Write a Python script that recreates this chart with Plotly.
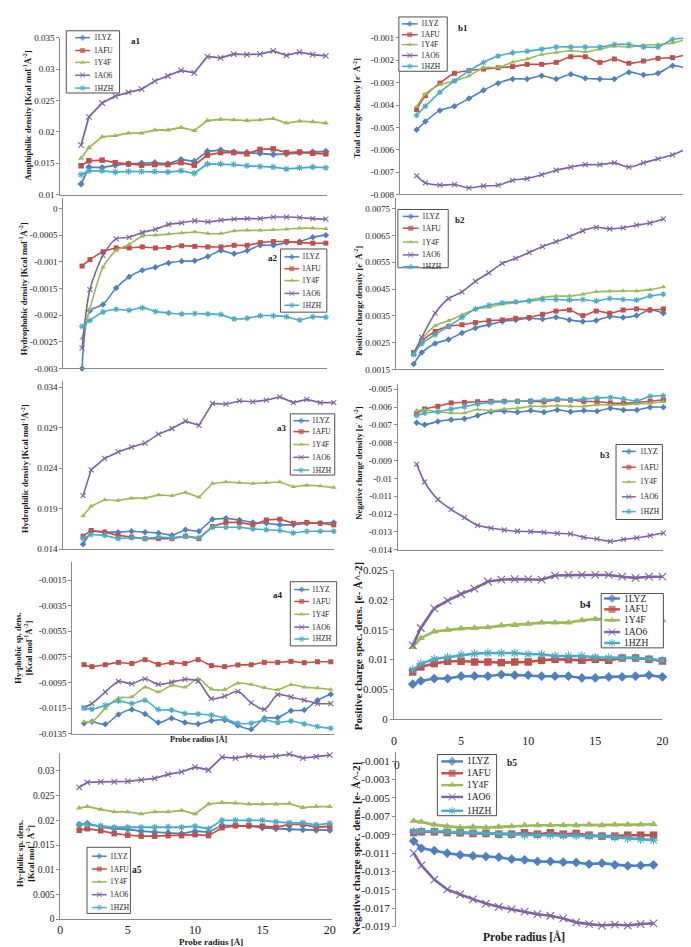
import plotly.graph_objects as go

W, H = 691, 947
FONT = "Liberation Serif"

SERIES = ["1LYZ", "1AFU", "1Y4F", "1AO6", "1HZH"]
COLORS = ["#4F81BD", "#C0504D", "#9BBB59", "#8064A2", "#4BACC6"]
SYMBOLS = ["diamond", "square", "triangle-up", "x-thin-open", "asterisk-open"]

probe_radius = [1.4, 2, 3, 4, 5, 6, 7, 8, 9, 10, 11, 12, 13, 14, 15, 16, 17, 18, 19, 20]

# ---- a1 : Amphiphilic density
a1_1LYZ = [0.0117, 0.0144, 0.0143, 0.0147, 0.0149, 0.0150, 0.0151, 0.0149, 0.0156, 0.0153, 0.0169, 0.0171, 0.0168, 0.0167, 0.0166, 0.0164, 0.0165, 0.0167, 0.0168, 0.0169]
a1_1AFU = [0.0146, 0.0154, 0.0155, 0.0151, 0.0149, 0.0147, 0.0148, 0.0148, 0.0151, 0.0147, 0.0163, 0.0167, 0.0167, 0.0165, 0.0172, 0.0173, 0.0167, 0.0168, 0.0166, 0.0165]
a1_1Y4F = [0.0158, 0.0175, 0.0192, 0.0194, 0.0198, 0.0198, 0.0203, 0.0203, 0.0207, 0.0202, 0.0218, 0.0220, 0.0219, 0.0218, 0.0219, 0.0221, 0.0214, 0.0217, 0.0216, 0.0214]
a1_1AO6 = [0.0179, 0.0224, 0.0246, 0.0257, 0.0263, 0.0268, 0.0281, 0.0289, 0.0298, 0.0294, 0.0320, 0.0318, 0.0324, 0.0323, 0.0324, 0.0329, 0.0322, 0.0327, 0.0323, 0.0321]
a1_1HZH = [0.0132, 0.0138, 0.0138, 0.0136, 0.0137, 0.0137, 0.0137, 0.0136, 0.0138, 0.0134, 0.0149, 0.0149, 0.0148, 0.0146, 0.0145, 0.0144, 0.0141, 0.0143, 0.0144, 0.0143]

# ---- b1 : Total charge density
b1_1LYZ = [-0.00511, -0.00474, -0.00424, -0.00405, -0.00371, -0.00334, -0.00302, -0.00283, -0.00283, -0.00269, -0.00283, -0.00262, -0.00280, -0.00283, -0.00283, -0.00253, -0.00265, -0.00258, -0.00224, -0.00236]
b1_1AFU = [-0.00420, -0.00358, -0.00302, -0.00258, -0.00246, -0.00239, -0.00233, -0.00228, -0.00218, -0.00218, -0.00209, -0.00184, -0.00184, -0.00209, -0.00194, -0.00213, -0.00203, -0.00191, -0.00188, -0.00174]
b1_1Y4F = [-0.00408, -0.00351, -0.00309, -0.00292, -0.00270, -0.00233, -0.00231, -0.00209, -0.00194, -0.00174, -0.00165, -0.00157, -0.00162, -0.00150, -0.00137, -0.00140, -0.00132, -0.00129, -0.00122, -0.00106]
b1_1AO6 = [-0.00717, -0.00748, -0.00759, -0.00756, -0.00771, -0.00762, -0.00759, -0.00737, -0.00729, -0.00712, -0.00692, -0.00678, -0.00667, -0.00667, -0.00659, -0.00678, -0.00659, -0.00641, -0.00623, -0.00594]
b1_1HZH = [-0.00446, -0.00405, -0.00343, -0.00292, -0.00247, -0.00210, -0.00181, -0.00166, -0.00159, -0.00150, -0.00140, -0.00140, -0.00140, -0.00140, -0.00129, -0.00129, -0.00140, -0.00140, -0.00107, -0.00100]

# ---- a2 : Hydrophobic density
a2_1LYZ = [-0.00300, -0.00192, -0.00180, -0.00149, -0.00128, -0.00116, -0.00110, -0.00102, -0.00099, -0.00098, -0.00090, -0.00079, -0.00085, -0.00079, -0.00069, -0.00069, -0.00064, -0.00062, -0.00054, -0.00050]
a2_1AFU = [-0.00108, -0.00096, -0.00081, -0.00074, -0.00074, -0.00072, -0.00074, -0.00073, -0.00070, -0.00071, -0.00072, -0.00072, -0.00069, -0.00069, -0.00064, -0.00062, -0.00062, -0.00064, -0.00065, -0.00065]
a2_1Y4F = [-0.00244, -0.00188, -0.00110, -0.00079, -0.00067, -0.00052, -0.00050, -0.00048, -0.00046, -0.00044, -0.00047, -0.00047, -0.00042, -0.00041, -0.00041, -0.00040, -0.00039, -0.00037, -0.00037, -0.00038]
a2_1AO6 = [-0.00262, -0.00152, -0.00088, -0.00057, -0.00054, -0.00045, -0.00039, -0.00030, -0.00027, -0.00023, -0.00025, -0.00022, -0.00020, -0.00019, -0.00019, -0.00016, -0.00016, -0.00017, -0.00019, -0.00020]
a2_1HZH = [-0.00221, -0.00210, -0.00194, -0.00189, -0.00191, -0.00186, -0.00193, -0.00196, -0.00198, -0.00197, -0.00198, -0.00199, -0.00207, -0.00206, -0.00201, -0.00201, -0.00203, -0.00209, -0.00203, -0.00204]

# ---- b2 : Positive charge density
b2_1LYZ = [0.00170, 0.00213, 0.00247, 0.00262, 0.00286, 0.00305, 0.00317, 0.00329, 0.00335, 0.00341, 0.00338, 0.00345, 0.00335, 0.00329, 0.00333, 0.00348, 0.00344, 0.00351, 0.00372, 0.00360]
b2_1AFU = [0.00213, 0.00256, 0.00292, 0.00311, 0.00317, 0.00325, 0.00332, 0.00335, 0.00341, 0.00344, 0.00356, 0.00368, 0.00372, 0.00351, 0.00368, 0.00360, 0.00372, 0.00376, 0.00372, 0.00376]
b2_1Y4F = [0.00209, 0.00262, 0.00313, 0.00332, 0.00354, 0.00375, 0.00382, 0.00394, 0.00399, 0.00409, 0.00419, 0.00424, 0.00424, 0.00431, 0.00440, 0.00442, 0.00443, 0.00443, 0.00448, 0.00458]
b2_1AO6 = [0.00209, 0.00270, 0.00360, 0.00415, 0.00440, 0.00479, 0.00511, 0.00546, 0.00565, 0.00587, 0.00609, 0.00627, 0.00646, 0.00668, 0.00681, 0.00675, 0.00679, 0.00689, 0.00697, 0.00712]
b2_1HZH = [0.00206, 0.00246, 0.00280, 0.00311, 0.00344, 0.00376, 0.00390, 0.00399, 0.00403, 0.00406, 0.00411, 0.00411, 0.00409, 0.00411, 0.00406, 0.00415, 0.00411, 0.00409, 0.00424, 0.00431]

# ---- a3 : Hydrophilic density
a3_1LYZ = [0.0146, 0.0162, 0.0161, 0.0161, 0.0162, 0.0161, 0.0160, 0.0157, 0.0164, 0.0162, 0.0177, 0.0178, 0.0176, 0.0173, 0.0172, 0.0170, 0.0170, 0.0172, 0.0172, 0.0173]
a3_1AFU = [0.0156, 0.0163, 0.0161, 0.0157, 0.0155, 0.0153, 0.0153, 0.0153, 0.0156, 0.0153, 0.0168, 0.0173, 0.0173, 0.0170, 0.0176, 0.0177, 0.0172, 0.0173, 0.0172, 0.0170]
a3_1Y4F = [0.0181, 0.0193, 0.0201, 0.0200, 0.0203, 0.0203, 0.0207, 0.0206, 0.0210, 0.0204, 0.0221, 0.0223, 0.0222, 0.0221, 0.0222, 0.0223, 0.0217, 0.0219, 0.0218, 0.0216]
a3_1AO6 = [0.0206, 0.0238, 0.0252, 0.0260, 0.0266, 0.0271, 0.0282, 0.0289, 0.0298, 0.0293, 0.0320, 0.0319, 0.0323, 0.0322, 0.0324, 0.0328, 0.0321, 0.0325, 0.0321, 0.0321]
a3_1HZH = [0.0153, 0.0158, 0.0157, 0.0153, 0.0154, 0.0153, 0.0155, 0.0154, 0.0156, 0.0154, 0.0167, 0.0167, 0.0167, 0.0165, 0.0164, 0.0163, 0.0160, 0.0162, 0.0162, 0.0162]

# ---- b3 : Negative charge density
b3_1LYZ = [-0.00688, -0.00699, -0.00681, -0.00671, -0.00666, -0.00648, -0.00626, -0.00623, -0.00629, -0.00620, -0.00629, -0.00616, -0.00626, -0.00620, -0.00623, -0.00607, -0.00616, -0.00616, -0.00601, -0.00601]
b3_1AFU = [-0.00638, -0.00611, -0.00596, -0.00577, -0.00574, -0.00570, -0.00568, -0.00568, -0.00568, -0.00568, -0.00570, -0.00559, -0.00561, -0.00568, -0.00570, -0.00577, -0.00579, -0.00574, -0.00568, -0.00559]
b3_1Y4F = [-0.00620, -0.00616, -0.00626, -0.00633, -0.00634, -0.00614, -0.00620, -0.00611, -0.00607, -0.00596, -0.00596, -0.00592, -0.00596, -0.00596, -0.00588, -0.00588, -0.00587, -0.00583, -0.00579, -0.00570]
b3_1AO6 = [-0.00920, -0.01020, -0.01118, -0.01173, -0.01219, -0.01263, -0.01278, -0.01289, -0.01296, -0.01298, -0.01302, -0.01308, -0.01311, -0.01330, -0.01339, -0.01353, -0.01342, -0.01333, -0.01320, -0.01306]
b3_1HZH = [-0.00648, -0.00633, -0.00626, -0.00611, -0.00598, -0.00583, -0.00574, -0.00570, -0.00568, -0.00565, -0.00561, -0.00555, -0.00559, -0.00555, -0.00550, -0.00546, -0.00555, -0.00565, -0.00540, -0.00537]

# ---- a4 : Hydrophobic specific density
a4_1LYZ = [-0.01268, -0.01256, -0.01276, -0.01199, -0.01160, -0.01196, -0.01263, -0.01229, -0.01263, -0.01273, -0.01248, -0.01242, -0.01286, -0.01314, -0.01229, -0.01225, -0.01171, -0.01165, -0.01088, -0.01042]
a4_1AFU = [-0.00811, -0.00826, -0.00811, -0.00793, -0.00801, -0.00772, -0.00808, -0.00795, -0.00801, -0.00772, -0.00818, -0.00826, -0.00813, -0.00811, -0.00793, -0.00793, -0.00785, -0.00795, -0.00788, -0.00788]
a4_1Y4F = [-0.01256, -0.01256, -0.01152, -0.01070, -0.01063, -0.00986, -0.01024, -0.00973, -0.00986, -0.00921, -0.01000, -0.01004, -0.00955, -0.00965, -0.00990, -0.01006, -0.00967, -0.00986, -0.00993, -0.01004]
a4_1AO6 = [-0.01148, -0.01114, -0.01024, -0.00942, -0.00960, -0.00921, -0.00965, -0.00947, -0.00926, -0.00940, -0.01075, -0.01057, -0.01019, -0.01109, -0.01160, -0.01044, -0.01063, -0.01088, -0.01114, -0.01114]
a4_1HZH = [-0.01148, -0.01158, -0.01127, -0.01094, -0.01114, -0.01088, -0.01160, -0.01165, -0.01191, -0.01196, -0.01204, -0.01229, -0.01268, -0.01268, -0.01242, -0.01263, -0.01250, -0.01273, -0.01294, -0.01307]

# ---- b4 : Positive charge specific density
b4_1LYZ = [0.00588, 0.00643, 0.00683, 0.00683, 0.00722, 0.00727, 0.00722, 0.00750, 0.00738, 0.00738, 0.00722, 0.00722, 0.00722, 0.00693, 0.00693, 0.00710, 0.00710, 0.00722, 0.00738, 0.00710]
b4_1AFU = [0.00793, 0.00877, 0.00933, 0.00972, 0.00972, 0.00960, 0.00960, 0.00950, 0.00960, 0.00960, 0.00988, 0.01005, 0.01000, 0.00988, 0.01005, 0.00988, 0.01027, 0.01027, 0.01005, 0.00977]
b4_1Y4F = [0.0121, 0.0136, 0.0147, 0.0150, 0.0152, 0.0153, 0.0154, 0.0157, 0.0158, 0.0160, 0.0162, 0.0162, 0.0162, 0.0166, 0.0168, 0.0168, 0.0169, 0.0168, 0.0167, 0.0166]
b4_1AO6 = [0.0124, 0.0153, 0.0186, 0.0199, 0.0210, 0.0219, 0.0231, 0.0234, 0.0235, 0.0235, 0.0234, 0.0241, 0.0242, 0.0242, 0.0242, 0.0242, 0.0239, 0.0237, 0.0239, 0.0239]
b4_1HZH = [0.0083, 0.0093, 0.0101, 0.0104, 0.0108, 0.0110, 0.0111, 0.0111, 0.0111, 0.0109, 0.0109, 0.0106, 0.0106, 0.0106, 0.0104, 0.0103, 0.0103, 0.0103, 0.0101, 0.0099]

# ---- a5 : Hydrophilic specific density
a5_1LYZ = [0.0191, 0.0194, 0.0187, 0.0183, 0.0182, 0.0178, 0.0176, 0.0175, 0.0173, 0.0178, 0.0176, 0.0190, 0.0190, 0.0189, 0.0185, 0.0183, 0.0182, 0.0181, 0.0180, 0.0180]
a5_1AFU = [0.0180, 0.0183, 0.0179, 0.0173, 0.0170, 0.0168, 0.0168, 0.0169, 0.0169, 0.0171, 0.0169, 0.0185, 0.0189, 0.0189, 0.0188, 0.0186, 0.0192, 0.0192, 0.0186, 0.0188]
a5_1Y4F = [0.0225, 0.0228, 0.0222, 0.0217, 0.0217, 0.0213, 0.0217, 0.0217, 0.0220, 0.0213, 0.0233, 0.0236, 0.0235, 0.0233, 0.0233, 0.0233, 0.0234, 0.0226, 0.0228, 0.0228]
a5_1AO6 = [0.0267, 0.0277, 0.0278, 0.0278, 0.0279, 0.0282, 0.0285, 0.0293, 0.0298, 0.0308, 0.0302, 0.0328, 0.0326, 0.0331, 0.0328, 0.0330, 0.0334, 0.0326, 0.0329, 0.0332]
a5_1HZH = [0.0192, 0.0191, 0.0189, 0.0186, 0.0186, 0.0186, 0.0186, 0.0187, 0.0186, 0.0188, 0.0183, 0.0200, 0.0200, 0.0200, 0.0200, 0.0197, 0.0195, 0.0195, 0.0191, 0.0194]

# ---- b5 : Negative charge specific density
b5_1LYZ = [-0.00970, -0.01048, -0.01073, -0.01102, -0.01120, -0.01131, -0.01138, -0.01145, -0.01167, -0.01174, -0.01191, -0.01191, -0.01199, -0.01202, -0.01220, -0.01210, -0.01228, -0.01239, -0.01235, -0.01228]
b5_1AFU = [-0.00877, -0.00869, -0.00869, -0.00877, -0.00880, -0.00887, -0.00887, -0.00895, -0.00895, -0.00880, -0.00895, -0.00880, -0.00895, -0.00887, -0.00906, -0.00916, -0.00916, -0.00906, -0.00906, -0.00906]
b5_1Y4F = [-0.00751, -0.00762, -0.00791, -0.00809, -0.00823, -0.00815, -0.00823, -0.00815, -0.00809, -0.00798, -0.00798, -0.00798, -0.00798, -0.00798, -0.00791, -0.00798, -0.00791, -0.00791, -0.00791, -0.00787]
b5_1AO6 = [-0.01102, -0.01234, -0.01389, -0.01496, -0.01550, -0.01604, -0.01650, -0.01685, -0.01711, -0.01736, -0.01765, -0.01782, -0.01811, -0.01854, -0.01872, -0.01890, -0.01879, -0.01890, -0.01872, -0.01865]
b5_1HZH = [-0.00869, -0.00863, -0.00863, -0.00869, -0.00877, -0.00880, -0.00887, -0.00895, -0.00898, -0.00906, -0.00906, -0.00906, -0.00912, -0.00912, -0.00916, -0.00916, -0.00930, -0.00941, -0.00952, -0.00959]

# ---- tick labels
a1_ticks = [0.01, 0.015, 0.02, 0.025, 0.03, 0.035]
b1_ticks = [-0.008, -0.007, -0.006, -0.005, -0.004, -0.003, -0.002, -0.001]
a2_ticks = [-0.003, -0.0025, -0.002, -0.0015, -0.001, -0.0005, 0]
b2_ticks = [0.0015, 0.0025, 0.0035, 0.0045, 0.0055, 0.0065, 0.0075]
a3_ticks = [0.014, 0.019, 0.024, 0.029, 0.034]
b3_ticks = [-0.014, -0.013, -0.012, -0.011, -0.01, -0.009, -0.008, -0.007, -0.006, -0.005]
a4_ticks = [-0.0135, -0.0115, -0.0095, -0.0075, -0.0055, -0.0035, -0.0015]
b4_ticks = [0, 0.005, 0.01, 0.015, 0.02, 0.025]
a5_ticks = [0, 0.005, 0.01, 0.015, 0.02, 0.025, 0.03]
b5_ticks = [-0.019, -0.017, -0.015, -0.013, -0.011, -0.009, -0.007, -0.005, -0.003, -0.001]
x_ticks = [0, 5, 10, 15, 20]

PANELS = ["a1", "b1", "a2", "b2", "a3", "b3", "a4", "b4", "a5", "b5"]
DATA = {
    "a1": [a1_1LYZ, a1_1AFU, a1_1Y4F, a1_1AO6, a1_1HZH],
    "b1": [b1_1LYZ, b1_1AFU, b1_1Y4F, b1_1AO6, b1_1HZH],
    "a2": [a2_1LYZ, a2_1AFU, a2_1Y4F, a2_1AO6, a2_1HZH],
    "b2": [b2_1LYZ, b2_1AFU, b2_1Y4F, b2_1AO6, b2_1HZH],
    "a3": [a3_1LYZ, a3_1AFU, a3_1Y4F, a3_1AO6, a3_1HZH],
    "b3": [b3_1LYZ, b3_1AFU, b3_1Y4F, b3_1AO6, b3_1HZH],
    "a4": [a4_1LYZ, a4_1AFU, a4_1Y4F, a4_1AO6, a4_1HZH],
    "b4": [b4_1LYZ, b4_1AFU, b4_1Y4F, b4_1AO6, b4_1HZH],
    "a5": [a5_1LYZ, a5_1AFU, a5_1Y4F, a5_1AO6, a5_1HZH],
    "b5": [b5_1LYZ, b5_1AFU, b5_1Y4F, b5_1AO6, b5_1HZH],
}
TICKS = {"a1": a1_ticks, "b1": b1_ticks, "a2": a2_ticks, "b2": b2_ticks, "a3": a3_ticks,
         "b3": b3_ticks, "a4": a4_ticks, "b4": b4_ticks, "a5": a5_ticks, "b5": b5_ticks}

# ---- geometry (pixels) and styles
GEOM = {
    "a1": dict(left=50, right=320, top=24, bottom=183, ref=((24, 0.035), (183, 0.01)), first=71, last=319),
    "b1": dict(left=394, right=686, top=13, bottom=182.7, ref=((24.3, -0.001), (182.7, -0.008)), first=411, last=685),
    "a2": dict(left=53, right=320, top=186, bottom=359, ref=((197, 0.0), (359, -0.003)), first=72, last=319),
    "b2": dict(left=390, right=662, top=186, bottom=360, ref=((197.3, 0.0075), (360, 0.0015)), first=408, last=661),
    "a3": dict(left=53, right=327, top=372, bottom=542, ref=((378, 0.034), (542, 0.014)), first=73, last=327),
    "b3": dict(left=392, right=661, top=375, bottom=542.7, ref=((380, -0.005), (542.7, -0.014)), first=411, last=661),
    "a4": dict(left=62, right=327, top=555, bottom=729, ref=((573.3, -0.0015), (729, -0.0135)), first=74, last=324),
    "b4": dict(left=388, right=660, top=563.3, bottom=714.3, ref=((563.3, 0.025), (714.3, 0.0)), xrange=[0, 20]),
    "a5": dict(left=50, right=325, top=748, bottom=916.7, ref=((766.7, 0.03), (916.7, 0.0)), xrange=[0, 20.15]),
    "b5": dict(left=390, right=655, top=747, bottom=924.3, ref=((756.7, -0.001), (924.3, -0.019)), first=408, last=651),
}
STYLE = {
    "a1": dict(shape="linear", lw=1.8, ms=5.5, tf=9), "b1": dict(shape="spline", lw=1.6, ms=5, tf=9),
    "a2": dict(shape="spline", lw=1.6, ms=5, tf=9), "b2": dict(shape="spline", lw=1.6, ms=5, tf=9),
    "a3": dict(shape="linear", lw=1.6, ms=5, tf=9), "b3": dict(shape="spline", lw=1.6, ms=5, tf=9),
    "a4": dict(shape="spline", lw=1.6, ms=5, tf=9), "b4": dict(shape="linear", lw=2.6, ms=7.5, tf=11),
    "a5": dict(shape="linear", lw=1.8, ms=5.5, tf=9.5), "b5": dict(shape="linear", lw=2.6, ms=7.5, tf=11),
}
LEGENDS = {
    "a1": dict(box=(56, 17, 110, 80), ys=[24, 37, 49, 62, 75], sx=(65, 80), tx=82, fs=7.5, ms=5, lw=1.5),
    "b1": dict(box=(393, 3, 442, 58), ys=[10, 21, 31, 42, 53], sx=(396, 412), tx=413, fs=7.5, ms=5, lw=1.5),
    "a2": dict(box=(273, 238, 320, 302), ys=[246, 258, 270, 283, 295], sx=(277, 292), tx=293, fs=7.5, ms=5, lw=1.5),
    "b2": dict(box=(392, 198, 443, 257), ys=[205, 217, 231, 244, 256], sx=(397, 413), tx=414, fs=7.5, ms=5, lw=1.5),
    "a3": dict(box=(283, 405, 328, 467), ys=[412, 423, 436, 449, 462], sx=(286, 302), tx=303, fs=7.5, ms=5, lw=1.5),
    "b3": dict(box=(613, 436, 660, 512), ys=[443, 459, 474, 489, 504], sx=(619, 633), tx=635, fs=7.5, ms=5, lw=1.5),
    "a4": dict(box=(283, 575, 330, 640), ys=[583, 595, 608, 621, 633], sx=(287, 302), tx=303, fs=7.5, ms=5, lw=1.5),
    "b4": dict(box=(598, 587, 661, 642), ys=[592, 603, 614, 626, 637], sx=(601, 617), tx=619, fs=9.5, ms=7, lw=2.4),
    "a5": dict(box=(77, 844, 121, 911), ys=[853, 866, 879, 892, 905], sx=(82, 97), tx=98, fs=7.5, ms=5, lw=1.5),
    "b5": dict(box=(432, 750, 492, 812), ys=[757, 769, 781, 793, 807], sx=(436, 458), tx=460, fs=9.5, ms=7, lw=2.4),
}
KCAL = "[Kcal mol<sup>-1</sup>Å<sup>-2</sup>]"
ECH = "[e<sup>-</sup> Å<sup>-2</sup>]"
YTITLES = {
    "a1": ("Amphiphilic density " + KCAL, 17, 103, 8.5),
    "b1": ("Total charge density " + ECH, 351, 95, 8.5),
    "a2": ("Hydrophobic density " + KCAL, 13, 278, 8.5),
    "b2": ("Positive charge density " + ECH, 352, 290, 8.5),
    "a3": ("Hydrophilic density " + KCAL, 14, 460, 8.5),
    "b3": ("Negative charge density " + ECH, 352, 455, 8.5),
    "a4": ("Hy-phobic sp. dens.<br>" + KCAL, 13, 642, 8.5),
    "b4": ("Positive charge spec. dens. [e- Å^-2]", 351, 640, 11),
    "a5": ("Hy-philic sp. dens.<br>[Kcal mol<sup>-1</sup> Å<sup>-2</sup>]", 14, 850, 8.5),
    "b5": ("Negative charge spec. dens. [e- Å^-2]", 350, 845, 11),
}
LABELS = {"a1": (127, 27, 9), "b1": (458, 14, 9), "a2": (265, 247, 9), "b2": (455, 209, 9),
          "a3": (275, 419, 9), "b3": (602, 447, 9), "a4": (271, 588, 9), "b4": (582, 598, 10),
          "a5": (128, 867, 9.5), "b5": (508, 759, 9.5)}
XTITLES = [(190, 735, 8), (203, 939.5, 9), (520, 934, 11.5)]

AXIS_COLOR = "#8a8a8a"
TEXT_COLOR = "#1a1a1a"


def fmt(v):
    return "%g" % v


fig = go.Figure()
layout = dict(width=W, height=H, autosize=False, margin=dict(l=0, r=0, t=0, b=0, pad=0),
              paper_bgcolor="white", plot_bgcolor="rgba(0,0,0,0)", showlegend=False,
              font=dict(family=FONT, size=9, color=TEXT_COLOR))
annotations = []
shapes = []

for i, p in enumerate(PANELS, start=1):
    g = GEOM[p]
    st = STYLE[p]
    xa = "xaxis" if i == 1 else "xaxis%d" % i
    ya = "yaxis" if i == 1 else "yaxis%d" % i
    xr = "x" if i == 1 else "x%d" % i
    yr = "y" if i == 1 else "y%d" % i
    (p1, v1), (p2, v2) = g["ref"]
    sc = (v1 - v2) / (p2 - p1)
    ytop = v1 + (p1 - g["top"]) * sc
    ybot = v1 - (g["bottom"] - p1) * sc
    if "xrange" in g:
        xrange_ = g["xrange"]
    else:
        s = (g["last"] - g["first"]) / (probe_radius[-1] - probe_radius[0])
        xrange_ = [probe_radius[0] - (g["first"] - g["left"]) / s,
                   probe_radius[-1] + (g["right"] - g["last"]) / s]
    show_xt = p in ("b4", "a5")
    layout[xa] = dict(domain=[g["left"] / W, g["right"] / W], range=xrange_, anchor=yr,
                      showline=(p != "b5"), linecolor=AXIS_COLOR, linewidth=1,
                      showgrid=False, zeroline=False, fixedrange=True,
                      showticklabels=show_xt, tickvals=x_ticks if show_xt else None,
                      ticktext=[fmt(t) for t in x_ticks] if show_xt else None,
                      ticks="", tickfont=dict(family=FONT, size=12, color=TEXT_COLOR),
                      ticklabelstandoff=(10 if p == "b4" else 0))
    layout[ya] = dict(domain=[1 - g["bottom"] / H, 1 - g["top"] / H], range=[ybot, ytop], anchor=xr,
                      showline=True, linecolor=AXIS_COLOR, linewidth=1, showgrid=False, zeroline=False,
                      fixedrange=True, ticks="outside", ticklen=3, tickcolor=AXIS_COLOR,
                      tickvals=TICKS[p], ticktext=[fmt(t) for t in TICKS[p]],
                      tickfont=dict(family=FONT, size=st["tf"], color=TEXT_COLOR))
    for k, vals in enumerate(DATA[p]):
        open_sym = SYMBOLS[k].endswith("open")
        fig.add_trace(go.Scatter(
            x=probe_radius, y=vals, name=SERIES[k], mode="lines+markers", xaxis=xr, yaxis=yr,
            line=dict(color=COLORS[k], width=st["lw"], shape=st["shape"], smoothing=0.8),
            marker=dict(symbol=SYMBOLS[k], size=st["ms"], color=COLORS[k],
                        line=dict(color=COLORS[k], width=1.1 if open_sym else 0)),
            cliponaxis=False, showlegend=False, hoverinfo="x+y+name"))

# overlay axis in pixel units for legends and labels
layout["xaxis11"] = dict(domain=[0, 1], range=[0, W], visible=False, fixedrange=True, anchor="y11")
layout["yaxis11"] = dict(domain=[0, 1], range=[H, 0], visible=False, fixedrange=True, anchor="x11")

for p in PANELS:
    lg = LEGENDS[p]
    x0, y0, x1, y1 = lg["box"]
    shapes.append(dict(type="rect", xref="x11", yref="y11", x0=x0, y0=y0, x1=x1, y1=y1,
                       line=dict(color="#505050", width=1), fillcolor="white", layer="below"))
    for k, yy in enumerate(lg["ys"]):
        sx0, sx1 = lg["sx"]
        open_sym = SYMBOLS[k].endswith("open")
        fig.add_trace(go.Scatter(
            x=[sx0, (sx0 + sx1) / 2, sx1], y=[yy, yy, yy], mode="lines+markers", xaxis="x11", yaxis="y11",
            line=dict(color=COLORS[k], width=lg["lw"]),
            marker=dict(symbol=SYMBOLS[k], size=[0, lg["ms"], 0], color=COLORS[k],
                        line=dict(color=COLORS[k], width=1.1 if open_sym else 0)),
            showlegend=False, hoverinfo="skip", cliponaxis=False))
        annotations.append(dict(xref="x11", yref="y11", x=lg["tx"], y=yy, text=SERIES[k],
                                showarrow=False, xanchor="left", yanchor="middle",
                                font=dict(family=FONT, size=lg["fs"], color=TEXT_COLOR)))

for p in PANELS:
    txt, xx, yy, fs = YTITLES[p]
    annotations.append(dict(xref="x11", yref="y11", x=xx, y=yy, text="<b>" + txt + "</b>",
                            textangle=-90, showarrow=False, xanchor="center", yanchor="middle",
                            font=dict(family=FONT, size=fs, color=TEXT_COLOR)))
    lx, ly, lf = LABELS[p]
    annotations.append(dict(xref="x11", yref="y11", x=lx, y=ly, text="<b>" + p + "</b>",
                            showarrow=False, xanchor="center", yanchor="middle",
                            font=dict(family=FONT, size=lf, color=TEXT_COLOR)))

for xx, yy, fs in XTITLES:
    annotations.append(dict(xref="x11", yref="y11", x=xx, y=yy, text="<b>Probe radius [Å]</b>",
                            showarrow=False, xanchor="center", yanchor="middle",
                            font=dict(family=FONT, size=fs, color=TEXT_COLOR)))
# stray zero label at the top-left of panel b5
annotations.append(dict(xref="x11", yref="y11", x=391, y=761, text="0", showarrow=False,
                        xanchor="center", yanchor="middle",
                        font=dict(family=FONT, size=11.5, color=TEXT_COLOR)))

layout["annotations"] = annotations
layout["shapes"] = shapes
fig.update_layout(**layout)
fig.write_html("out.html")
